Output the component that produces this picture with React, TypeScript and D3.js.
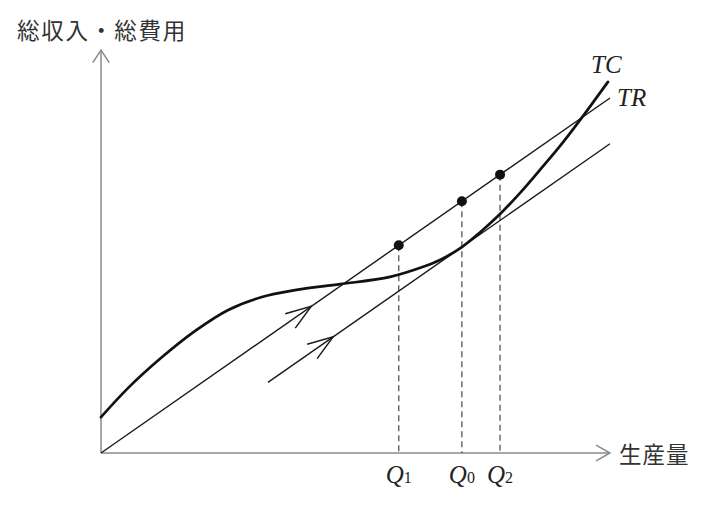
import React from "react";
import * as d3 from "d3";

const W = 709;
const H = 507;

// Data units: x 0..10 (output), y 0..10 (revenue/cost)
const tcX = [0, 0.53, 1.2, 1.85, 2.5, 3.16, 3.81, 4.7, 5.68, 6.33, 6.66, 7.09, 7.45, 7.84, 8.23, 8.62, 9.02, 9.41, 9.96];
const tcY = [0.89, 1.61, 2.38, 3.03, 3.55, 3.87, 4.04, 4.19, 4.37, 4.62, 4.79, 5.11, 5.48, 5.93, 6.45, 7.02, 7.62, 8.26, 9.21];

const trSlope = 0.881;
const trRange = [0, 10];
const tangentIntercept = -1.136;
const tangentRange = [3.28, 10];

const qLabels = ["1", "0", "2"];
const qValues = [5.85, 7.09, 7.84];

const arrowTR = 4.13;
const arrowTangent = 4.56;

const axisLabelY = "総収入・総費用";
const axisLabelX = "生産量";

export default function App() {
  const x = d3.scaleLinear().domain([0, 10]).range([101, 610]);
  const y = d3.scaleLinear().domain([0, 10]).range([453, 50]);

  const tcData = tcX.map((v, i) => [v, tcY[i]] as [number, number]);
  const line = d3
    .line<[number, number]>()
    .x((d) => x(d[0]))
    .y((d) => y(d[1]))
    .curve(d3.curveCatmullRom.alpha(0.5));

  const tr = (v: number) => trSlope * v;
  const tg = (v: number) => trSlope * v + tangentIntercept;

  const chevron = (tx: number, ty: number, ang: number, len: number, half: number) => {
    const back = ang + Math.PI;
    const a1 = back + half;
    const a2 = back - half;
    return `M${tx + len * Math.cos(a1)},${ty + len * Math.sin(a1)}L${tx},${ty}L${tx + len * Math.cos(a2)},${ty + len * Math.sin(a2)}`;
  };

  const dirAng = Math.atan2(y(trSlope) - y(0), x(1) - x(0));

  const ox = x(0);
  const oy = y(0);
  const yTop = y(10);
  const xEnd = x(10);

  return (
    <svg width={W} height={H} style={{ position: "absolute", left: 0, top: 0, background: "#fff" }}>
      {/* axes */}
      <g stroke="#8a8a8a" strokeWidth={1.5} fill="none">
        <line x1={ox} y1={oy} x2={ox} y2={yTop} />
        <line x1={ox} y1={oy} x2={xEnd} y2={oy} />
        <path d={chevron(ox, yTop, -Math.PI / 2, 15, 0.58)} />
        <path d={chevron(xEnd, oy, 0, 16, 0.52)} />
      </g>

      {/* dashed guides */}
      <g stroke="#555" strokeWidth={1.3} strokeDasharray="6,4" fill="none">
        {qValues.map((q, i) => (
          <line key={i} x1={x(q)} y1={y(tr(q))} x2={x(q)} y2={oy} />
        ))}
      </g>

      {/* TR line */}
      <line x1={x(trRange[0])} y1={y(tr(trRange[0]))} x2={x(trRange[1])} y2={y(tr(trRange[1]))} stroke="#1a1a1a" strokeWidth={1.4} />
      {/* tangent line */}
      <line
        x1={x(tangentRange[0])}
        y1={y(tg(tangentRange[0]))}
        x2={x(tangentRange[1])}
        y2={y(tg(tangentRange[1]))}
        stroke="#1a1a1a"
        strokeWidth={1.4}
      />

      {/* arrows on lines */}
      <g stroke="#1a1a1a" strokeWidth={1.5} fill="none">
        <path d={chevron(x(arrowTR), y(tr(arrowTR)), dirAng, 27, 0.33)} />
        <path d={chevron(x(arrowTangent), y(tg(arrowTangent)), dirAng, 27, 0.33)} />
      </g>

      {/* TC curve */}
      <path d={line(tcData) || ""} fill="none" stroke="#111" strokeWidth={2.7} strokeLinecap="round" />

      {/* dots */}
      {qValues.map((q, i) => (
        <circle key={i} cx={x(q)} cy={y(tr(q))} r={5} fill="#111" />
      ))}

      {/* labels */}
      <text x={17} y={29} dominantBaseline="central" fontFamily="'Noto Sans CJK JP', sans-serif" fontSize={22.5} fill="#333" letterSpacing={1.8}>
        {axisLabelY}
      </text>
      <text x={619} y={453} dominantBaseline="central" fontFamily="'Noto Sans CJK JP', sans-serif" fontSize={22.5} fill="#333" letterSpacing={1}>
        {axisLabelX}
      </text>
      <text x={591} y={73} fontFamily="'Liberation Serif', serif" fontStyle="italic" fontSize={25} fill="#222">
        TC
      </text>
      <text x={617} y={106} fontFamily="'Liberation Serif', serif" fontStyle="italic" fontSize={25} fill="#222">
        TR
      </text>
      {qValues.map((q, i) => (
        <text key={i} x={x(q)} y={483} textAnchor="middle" fontFamily="'Liberation Serif', serif" fill="#222">
          <tspan fontStyle="italic" fontSize={25}>Q</tspan>
          <tspan fontSize={16}>{qLabels[i]}</tspan>
        </text>
      ))}
    </svg>
  );
}
